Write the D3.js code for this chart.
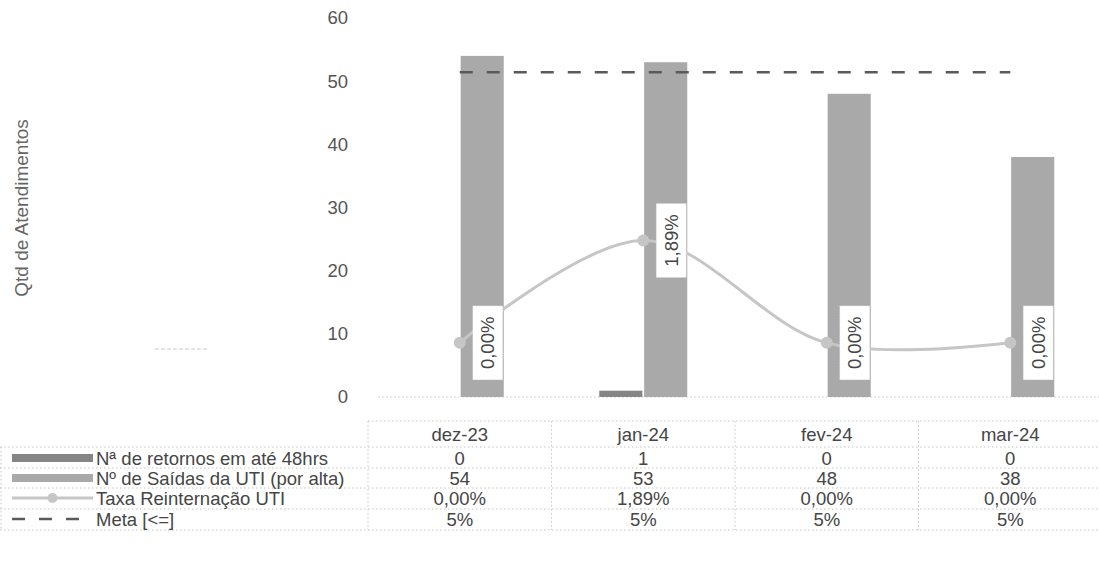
<!DOCTYPE html>
<html>
<head>
<meta charset="utf-8">
<script src="https://cdn.jsdelivr.net/npm/d3@7"></script>
<style>
  html, body { margin: 0; padding: 0; background: #fff; }
  svg { display: block; font-family: "Liberation Sans", Arial, sans-serif; }
</style>
</head>
<body>
<svg id="chart" width="1099" height="566"></svg>
<script>
// ---------- data ----------
const categories = ["dez-23", "jan-24", "fev-24", "mar-24"];
const retornos = [0, 1, 0, 0];
const saidas = [54, 53, 48, 38];
const taxa = [0.0, 0.0189, 0.0, 0.0];
const meta = [0.05, 0.05, 0.05, 0.05];
const yTicks = [0, 10, 20, 30, 40, 50, 60];
const seriesNames = ["Nª de retornos em até 48hrs", "Nº de Saídas da UTI (por alta)", "Taxa Reinternação UTI", "Meta [<=]"];
const yTitle = "Qtd de Atendimentos";

// ---------- setup ----------
const svg = d3.select("#chart");
const plotLeft = 368, plotRight = 1102;
const x = d3.scaleBand().domain(categories).range([plotLeft, plotRight]).paddingInner(0).paddingOuter(0);
const x1 = d3.scaleBand().domain(["ret", "sai"]).range([-44, 44]).paddingInner(0.04);
const y = d3.scaleLinear().domain([0, 60]).range([397, 18]);
const y2 = d3.scaleLinear().domain([-0.01, 0.06]).range([397, 18]); // hidden secondary axis

const pct = v => d3.format(".2f")(v * 100).replace(".", ",") + "%";
const pct0 = v => d3.format(".0f")(v * 100) + "%";

const FS = "18.5px";
const textCol = "#454545";
const colRet = "#858585";
const colSai = "#a9a9a9";
const colTaxa = "#c6c6c6";
const colMeta = "#5a5a5a";
const gridCol = "#c4c4c4";

// ---------- y axis ----------
const yAxis = d3.axisLeft(y).tickValues(yTicks).tickSize(0).tickPadding(0);
const gy = svg.append("g").attr("transform", "translate(348,0)").call(yAxis);
gy.select(".domain").remove();
gy.selectAll("text").attr("fill", "#555").style("font-size", FS).style("font-family", "Liberation Sans, Arial, sans-serif");

svg.append("text")
  .attr("transform", "translate(28,208) rotate(-90)")
  .attr("text-anchor", "middle")
  .attr("fill", "#666")
  .style("font-size", "19px")
  .text(yTitle);

// stray short dotted line
svg.append("line").attr("x1", 155).attr("x2", 207).attr("y1", 349).attr("y2", 349)
  .attr("stroke", "#c8c8c8").attr("stroke-width", 1.2).attr("stroke-dasharray", "4,2");

// baseline (category axis), dotted
svg.append("line").attr("x1", plotLeft + 10).attr("x2", plotRight).attr("y1", y(0)).attr("y2", y(0))
  .attr("stroke", gridCol).attr("stroke-width", 1).attr("stroke-dasharray", "1.5,2.5");

// ---------- bars ----------
const gBars = svg.append("g");
gBars.selectAll("rect.ret").data(categories).join("rect")
  .attr("class", "ret")
  .attr("x", d => x(d) + x.bandwidth() / 2 + x1("ret"))
  .attr("width", x1.bandwidth())
  .attr("y", (d, i) => y(retornos[i]))
  .attr("height", (d, i) => y(0) - y(retornos[i]))
  .attr("fill", colRet);
gBars.selectAll("rect.sai").data(categories).join("rect")
  .attr("class", "sai")
  .attr("x", d => x(d) + x.bandwidth() / 2 + x1("sai"))
  .attr("width", x1.bandwidth())
  .attr("y", (d, i) => y(saidas[i]))
  .attr("height", (d, i) => y(0) - y(saidas[i]))
  .attr("fill", colSai);

// ---------- meta line ----------
const cx = d => x(d) + x.bandwidth() / 2;
const metaLine = d3.line().x((d, i) => cx(categories[i])).y(d => y2(d));
svg.append("path").datum(meta).attr("d", metaLine)
  .attr("fill", "none").attr("stroke", colMeta).attr("stroke-width", 2.5)
  .attr("stroke-dasharray", "13,14");

// ---------- taxa line ----------
const taxaLine = d3.line().x((d, i) => cx(categories[i])).y(d => y2(d)).curve(d3.curveCatmullRom.alpha(0.5));
svg.append("path").datum(taxa).attr("d", taxaLine)
  .attr("fill", "none").attr("stroke", colTaxa).attr("stroke-width", 3);
svg.selectAll("circle.taxa").data(taxa).join("circle")
  .attr("class", "taxa")
  .attr("cx", (d, i) => cx(categories[i]))
  .attr("cy", d => y2(d))
  .attr("r", 6)
  .attr("fill", colTaxa);

// labels
const gLab = svg.append("g");
taxa.forEach((v, i) => {
  const px = cx(categories[i]) + 28, py = y2(v);
  const g = gLab.append("g").attr("transform", `translate(${px},${py})`);
  g.append("rect").attr("x", -15).attr("y", -37).attr("width", 30).attr("height", 74)
    .attr("fill", "#fff").attr("stroke", "#d0d0d0").attr("stroke-width", 0.8).attr("stroke-dasharray", "1,2");
  g.append("text").attr("transform", "rotate(-90)").attr("text-anchor", "middle").attr("dy", "0.36em")
    .attr("fill", textCol).style("font-size", FS).text(pct(v));
});

// ---------- data table ----------
const rowY = [434, 458, 478, 498, 519];
const rowLines = [421, 447, 468, 488, 509, 530];
const gT = svg.append("g");
const dotted = sel => sel.attr("stroke", gridCol).attr("stroke-width", 1).attr("stroke-dasharray", "1.5,2.5");
// horizontal lines
gT.append("line").attr("x1", plotLeft).attr("x2", plotRight).attr("y1", rowLines[0]).attr("y2", rowLines[0]).call(dotted);
rowLines.slice(1).forEach(ly => gT.append("line").attr("x1", 0).attr("x2", plotRight).attr("y1", ly).attr("y2", ly).call(dotted));
// vertical lines
[plotLeft].concat(categories.map(c => x(c) + x.bandwidth())).forEach(lx =>
  gT.append("line").attr("x1", lx).attr("x2", lx).attr("y1", rowLines[0]).attr("y2", rowLines[5]).call(dotted));
gT.append("line").attr("x1", 1).attr("x2", 1).attr("y1", rowLines[1]).attr("y2", rowLines[5]).call(dotted);

// header
gT.selectAll("text.hdr").data(categories).join("text").attr("class", "hdr")
  .attr("x", d => cx(d)).attr("y", rowY[0]).attr("dy", "0.36em").attr("text-anchor", "middle")
  .attr("fill", textCol).style("font-size", FS).text(d => d);

const rows = [
  retornos.map(v => String(v)),
  saidas.map(v => String(v)),
  taxa.map(pct),
  meta.map(pct0)
];
rows.forEach((vals, r) => {
  gT.selectAll("text.r" + r).data(vals).join("text").attr("class", "r" + r)
    .attr("x", (d, i) => cx(categories[i])).attr("y", rowY[r + 1]).attr("dy", "0.36em").attr("text-anchor", "middle")
    .attr("fill", textCol).style("font-size", FS).text(d => d);
  gT.append("text").attr("x", 96).attr("y", rowY[r + 1]).attr("dy", "0.36em")
    .attr("fill", textCol).style("font-size", FS).text(seriesNames[r]);
});

// legend keys
const kx0 = 12, kx1 = 93;
gT.append("rect").attr("x", kx0).attr("y", rowY[1] - 4).attr("width", kx1 - kx0).attr("height", 8).attr("fill", colRet);
gT.append("rect").attr("x", kx0).attr("y", rowY[2] - 4).attr("width", kx1 - kx0).attr("height", 8).attr("fill", colSai);
gT.append("line").attr("x1", kx0).attr("x2", kx1).attr("y1", rowY[3]).attr("y2", rowY[3]).attr("stroke", colTaxa).attr("stroke-width", 3);
gT.append("circle").attr("cx", (kx0 + kx1) / 2).attr("cy", rowY[3]).attr("r", 5).attr("fill", colTaxa);
gT.append("line").attr("x1", kx0).attr("x2", kx1).attr("y1", rowY[4]).attr("y2", rowY[4]).attr("stroke", colMeta)
  .attr("stroke-width", 2.5).attr("stroke-dasharray", "13,14");
</script>
</body>
</html>
